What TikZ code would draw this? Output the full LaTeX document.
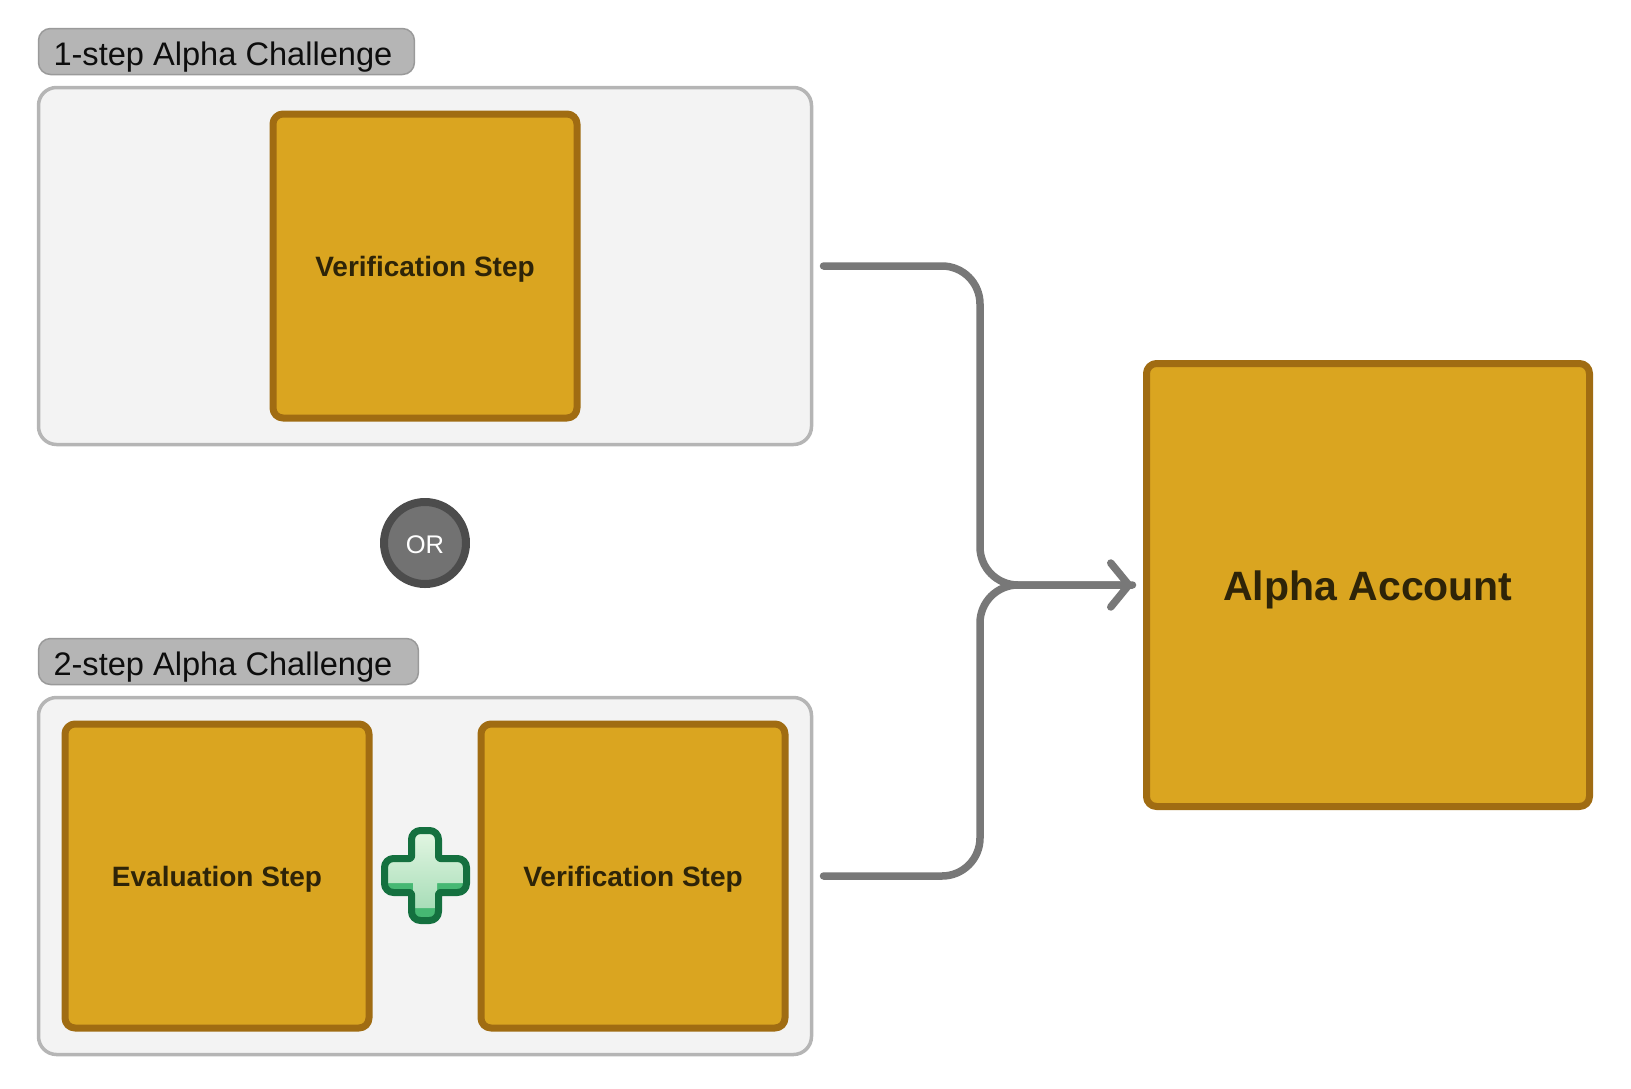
\documentclass[tikz,border=0pt]{standalone}
\usepackage{fontspec}
\setmainfont{Liberation Sans}
\usetikzlibrary{positioning, arrows.meta}
\definecolor{goldfill}{HTML}{DAA520}
\definecolor{golddraw}{HTML}{A06C12}
\definecolor{goldtext}{HTML}{2E2408}
\definecolor{framefill}{HTML}{F3F3F3}
\definecolor{framedraw}{HTML}{B5B5B5}
\definecolor{linkgray}{HTML}{787878}
\definecolor{plusdark}{HTML}{14703F}
\definecolor{plusmid}{HTML}{46B873}
\definecolor{plustop}{HTML}{E2F6E2}
\definecolor{plusbot}{HTML}{A8DDB8}

\begin{document}
\begin{tikzpicture}[x=1pt, y=-1pt,
                    line cap=round, line join=round,
                    frame/.style={draw=framedraw, fill=framefill, line width=3.5pt, rounded corners=18pt,
                                  minimum width=773pt, minimum height=357pt, outer sep=0pt},
                    tag/.style={draw=framedraw!85!black, fill=framedraw, line width=1.5pt, rounded corners=12pt,
                                minimum height=46pt, inner xsep=15pt, inner ysep=0pt, outer sep=0pt,
                                text height=34pt, text depth=7pt,
                                font=\fontsize{32.6}{36}\selectfont, text=black!95},
                    stepbox/.style={draw=golddraw, fill=goldfill, line width=7pt, rounded corners=10pt,
                                    minimum size=304pt, outer sep=0pt, text=goldtext,
                                    text height=26pt, text depth=6pt,
                                    font=\fontsize{28}{34}\selectfont\bfseries},
                    orbadge/.style={circle, draw=black!70, fill=linkgray!95!black, line width=8pt,
                                    minimum size=82pt, inner sep=0pt, text=white,
                                    text height=20pt, text depth=0pt,
                                    font=\fontsize{25.5}{30}\selectfont},
                    link/.style={draw=linkgray, line width=7.5pt, rounded corners=38pt},
                    vector/.style={-{Straight Barb[length=18pt, width=44pt, round]}}]
  \useasboundingbox (0,0) rectangle (1631,1088);

  % frames
  \node[frame] (frameA) at (425,266) {};
  \node[frame] (frameB) at (425,876) {};
  \node[tag, above=13pt of frameA.north west, anchor=south west] (tagA) {1-step Alpha Challenge\hspace*{7pt}};
  \node[tag, above=13pt of frameB.north west, anchor=south west] (tagB) {2-step Alpha Challenge\hspace*{11pt}};

  % steps
  \node[stepbox] (verifyA) at (frameA.center) {Verification Step};
  \node[stepbox] (evaluate) at (217,876) {Evaluation Step};
  \node[stepbox] (verifyB) at (633,876) {Verification Step};
  \node[stepbox, minimum size=443pt, text height=40pt, text depth=9pt,
        font=\fontsize{41}{48}\selectfont\bfseries] (account) at (1368,585) {Alpha Account};

  \node[orbadge] (or) at (425,543) {OR};

  % plus sign
  \def\plusshape{(411.5,845) [rounded corners=9pt] -- (411.5,830.5) -- (438.5,830.5) [rounded corners=2pt]
    -- (438.5,858.5) [rounded corners=9pt] -- (466.5,858.5) -- (466.5,892.5) [rounded corners=2pt]
    -- (438.5,892.5) [rounded corners=9pt] -- (438.5,920.5) -- (411.5,920.5) [rounded corners=2pt]
    -- (411.5,892.5) [rounded corners=9pt] -- (384.5,892.5) -- (384.5,858.5) [rounded corners=2pt]
    -- (411.5,858.5) -- cycle}
  \fill[plusmid] \plusshape;
  \shade[top color=plustop, bottom color=plusbot]
    (413,832) -- (437,832) -- (437,860) -- (465,860) -- (465,883) -- (437,883) -- (437,908)
    -- (413,908) -- (413,883) -- (386,883) -- (386,860) -- (413,860) -- cycle;
  \draw[plusdark, line width=7pt] \plusshape;

  % connectors
  \coordinate[right=12pt of frameA.east] (startA);
  \coordinate[right=12pt of frameB.east] (startB);
  \coordinate[left=14pt of account.west] (tip);
  \coordinate (trunk) at (980,585);
  \draw[link] (startA) -| (trunk) -- (tip);
  \draw[link, vector] (startB) -| (trunk) -- (tip);
\end{tikzpicture}
\end{document}
